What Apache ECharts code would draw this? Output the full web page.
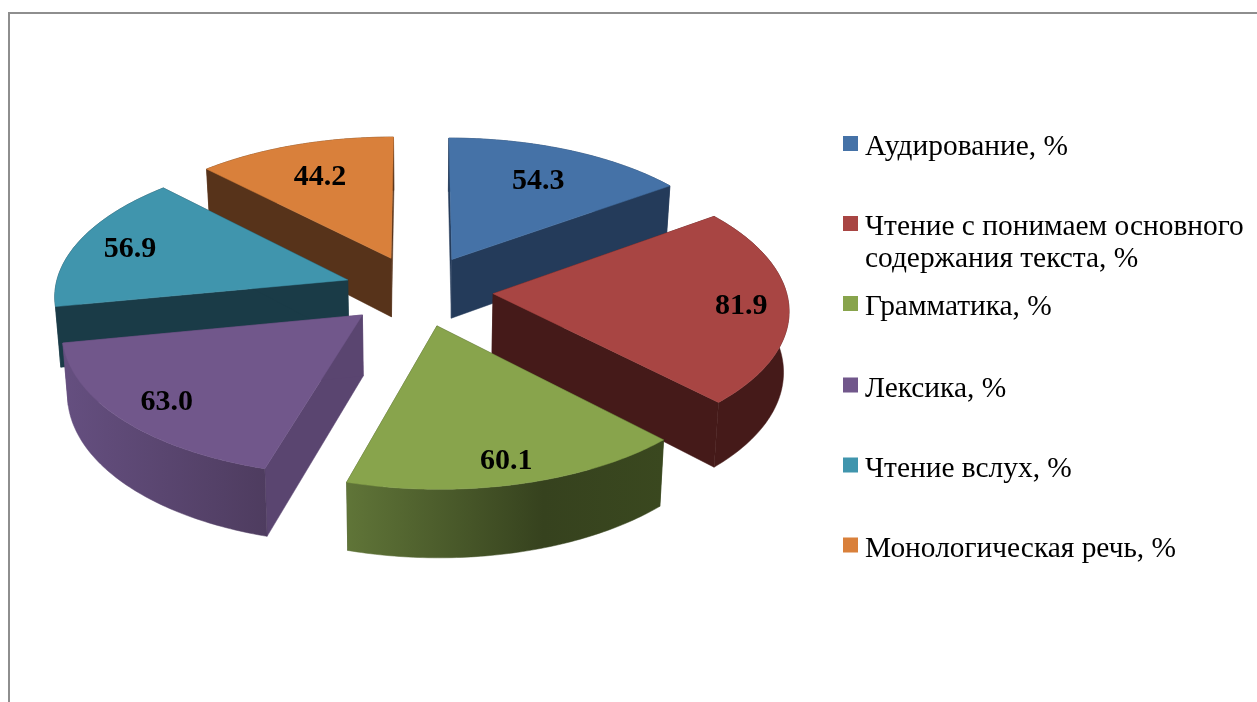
<!DOCTYPE html>
<html><head><meta charset="utf-8">
<style>html,body{margin:0;padding:0;background:#fff}#c{width:1257px;height:702px}</style>
<script src="https://cdn.jsdelivr.net/npm/echarts@6/dist/echarts.min.js"></script>
</head><body><div id="c"></div>
<script>
const categories = ['Аудирование, %','Чтение с понимаем основного\nсодержания текста, %','Грамматика, %','Лексика, %','Чтение вслух, %','Монологическая речь, %'];
const values = [54.3, 81.9, 60.1, 63.0, 56.9, 44.2];

// styling
const topColors = ['#4572a7','#a84543','#88a44c','#71578b','#4095ad','#d9803b'];
const sideColors = ['#243b5a','#451a19','#3a481f','#5a4570','#1a3b47','#57331a'];
const wallStops = [
  [['#243b5a',0],['#243b5a',1]],
  [['#451a19',0],['#451a19',1]],
  [['#607538',0],['#36421e',0.62],['#3a481f',1]],
  [['#654f80',0],['#4e3c5f',1]],
  [['#1a3b47',0],['#1a3b47',1]],
  [['#57331a',0],['#57331a',1]]
];
const labelRadius = [0.72,0.84,0.855,0.825,0.81,0.72];
const legendCentres = [143.5,223.5,303.5,385,465,545];
const legendLeft = 843;
const SERIF = '"Liberation Serif","Times New Roman",serif';

// projection of the tilted disc
const CX = 418.5, CY = 290.5, R = 293, TILT = 0.476, PERSP = 0.1, EXPLODE = 0.255, DEPTH = 60, BASE_SHRINK = 0.015, LABEL_DY = 2;

const total = values.reduce((a,b)=>a+b,0);
const starts = []; { let acc = 0; values.forEach(v=>{ starts.push(acc/total*Math.PI*2); acc+=v; }); }
function angles(i){ const a0=starts[i], a1=a0+values[i]/total*Math.PI*2; return [a0,a1,(a0+a1)/2]; }
function proj(mid, a, r, level){
  const wx = EXPLODE*Math.sin(mid) + r*Math.sin(a);
  const wy = -EXPLODE*Math.cos(mid) - r*Math.cos(a);
  const s = 1/(1-PERSP*wy);
  return [CX + R*wx*s*(1-BASE_SHRINK*level), CY + R*TILT*wy*s + level*DEPTH*s];
}
function renderSlice(i){
  const [a0,a1,mid] = angles(i);
  const N = 72, arcTop = [], arcBot = [];
  for(let k=0;k<=N;k++){ const a=a0+(a1-a0)*k/N; arcTop.push(proj(mid,a,1,0)); arcBot.push(proj(mid,a,1,1)); }
  const apT = proj(mid,0,0,0), apB = proj(mid,0,0,1);
  const poly = (points, fill)=>({type:'polygon',silent:true,shape:{points},style:{fill,stroke:fill,lineWidth:0.5}});
  const grad = new echarts.graphic.LinearGradient(0,0,1,0,wallStops[i].map(s=>({color:s[0],offset:s[1]})));
  const children = [
    poly([apT,arcTop[0],arcBot[0],apB],sideColors[i]),
    poly([apT,arcTop[N],arcBot[N],apB],sideColors[i]),
    poly(arcTop.concat(arcBot.slice().reverse()),grad),
    poly([apT].concat(arcTop),topColors[i])
  ];
  const lp = proj(mid,mid,labelRadius[i],0);
  children.push({type:'text',silent:true,style:{x:lp[0],y:lp[1]+LABEL_DY,text:values[i].toFixed(1),fill:'#000',
    font:'bold 30px '+SERIF,align:'center',verticalAlign:'middle'}});
  return {type:'group',children};
}
const series = categories.map((name,i)=>({
  type:'custom',name,coordinateSystem:'none',silent:true,animation:false,
  z:10+Math.round(10*(-Math.cos(angles(i)[2])+1)),
  itemStyle:{color:topColors[i]},
  data:[values[i]],
  renderItem:()=>renderSlice(i)
}));
const legend = categories.map((name,i)=>{
  const two = name.includes('\n');
  return {
    data:[name],orient:'vertical',left:legendLeft,top:legendCentres[i]-(two?44:12),padding:0,
    icon:'path://M0 0L15 0L15 15L0 15Z M0 23L0 23Z',itemWidth:15,itemHeight:23,selectedMode:false,
    formatter:n=>two?'\n'+n:n,
    textStyle:{fontFamily:SERIF,fontSize:29.4,color:'#000',lineHeight:32,padding:[0,0,0,2]}
  };
});
const chart = echarts.init(document.getElementById('c'),null,{renderer:'canvas'});
chart.setOption({
  animation:false,backgroundColor:'#fff',
  graphic:[{type:'rect',silent:true,z:0,shape:{x:9,y:13,width:1400,height:1000},style:{fill:'none',stroke:'#8e8e8e',lineWidth:2}}],
  legend,series
});
</script></body></html>
